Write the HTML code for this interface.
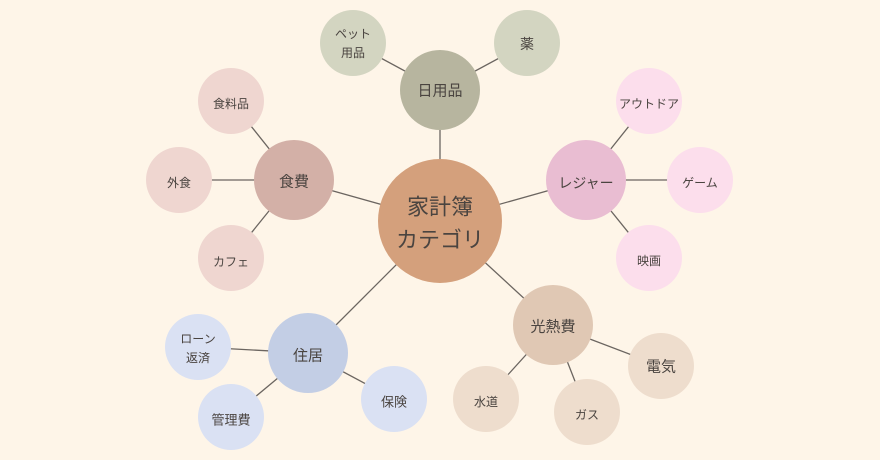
<!DOCTYPE html>
<html><head><meta charset="utf-8"><style>
html,body{margin:0;padding:0;background:#fef5e8;}
svg{display:block}
text{font-family:"Liberation Sans","Noto Sans CJK JP",sans-serif;fill:#4a4440;text-anchor:middle;dominant-baseline:central;}
</style></head><body>
<svg width="880" height="460" viewBox="0 0 880 460" xmlns="http://www.w3.org/2000/svg">
<rect width="880" height="460" fill="#fef5e8"/>
<g stroke="#6b6560" stroke-width="1.3">
<line x1="440" y1="221" x2="294" y2="180"/><line x1="440" y1="221" x2="440" y2="90"/>
<line x1="440" y1="221" x2="586" y2="180"/><line x1="440" y1="221" x2="553" y2="325"/>
<line x1="440" y1="221" x2="308" y2="353"/>
<line x1="294" y1="180" x2="231" y2="101"/><line x1="294" y1="180" x2="179" y2="180"/><line x1="294" y1="180" x2="231" y2="258"/>
<line x1="440" y1="90" x2="353" y2="43"/><line x1="440" y1="90" x2="527" y2="43"/>
<line x1="586" y1="180" x2="649" y2="101"/><line x1="586" y1="180" x2="700" y2="180"/><line x1="586" y1="180" x2="649" y2="258"/>
<line x1="553" y1="325" x2="661" y2="366"/><line x1="553" y1="325" x2="587" y2="412"/><line x1="553" y1="325" x2="486" y2="399"/>
<line x1="308" y1="353" x2="198" y2="347"/><line x1="308" y1="353" x2="231" y2="417"/><line x1="308" y1="353" x2="394" y2="399"/>
</g>
<circle cx="440" cy="221" r="62" fill="#d4a07c"/>
<circle cx="294" cy="180" r="40" fill="#d3b0a7"/>
<circle cx="231" cy="101" r="33" fill="#efd6d0"/><circle cx="179" cy="180" r="33" fill="#efd6d0"/><circle cx="231" cy="258" r="33" fill="#efd6d0"/>
<circle cx="440" cy="90" r="40" fill="#b7b59f"/>
<circle cx="353" cy="43" r="33" fill="#d3d5c1"/><circle cx="527" cy="43" r="33" fill="#d3d5c1"/>
<circle cx="586" cy="180" r="40" fill="#e9bdd2"/>
<circle cx="649" cy="101" r="33" fill="#fcdeec"/><circle cx="700" cy="180" r="33" fill="#fcdeec"/><circle cx="649" cy="258" r="33" fill="#fcdeec"/>
<circle cx="553" cy="325" r="40" fill="#e0c8b4"/>
<circle cx="661" cy="366" r="33" fill="#eeddcd"/><circle cx="587" cy="412" r="33" fill="#eeddcd"/><circle cx="486" cy="399" r="33" fill="#eeddcd"/>
<circle cx="308" cy="353" r="40" fill="#c3cee5"/>
<circle cx="198" cy="347" r="33" fill="#dae1f3"/><circle cx="231" cy="417" r="33" fill="#dae1f3"/><circle cx="394" cy="399" r="33" fill="#dae1f3"/>
<text x="440" y="207" font-size="22">家計簿</text><text x="440" y="240" font-size="22">カテゴリ</text>
<text x="294" y="182" font-size="15">食費</text>
<text x="231" y="104" font-size="12">食料品</text><text x="179" y="183" font-size="12">外食</text><text x="231" y="262" font-size="12">カフェ</text>
<text x="440" y="91" font-size="15">日用品</text>
<text x="353" y="34" font-size="12">ペット</text><text x="353" y="53" font-size="12">用品</text><text x="527" y="44" font-size="14">薬</text>
<text x="586" y="183" font-size="14">レジャー</text>
<text x="649" y="104" font-size="12">アウトドア</text><text x="700" y="183" font-size="12">ゲーム</text><text x="649" y="261" font-size="12">映画</text>
<text x="553" y="327" font-size="15">光熱費</text>
<text x="661" y="367" font-size="15">電気</text><text x="587" y="415" font-size="12">ガス</text><text x="486" y="402" font-size="12">水道</text>
<text x="308" y="356" font-size="15">住居</text>
<text x="198" y="339" font-size="12">ローン</text><text x="198" y="358" font-size="12">返済</text>
<text x="231" y="420" font-size="13">管理費</text><text x="394" y="402" font-size="13">保険</text>
</svg>
</body></html>
